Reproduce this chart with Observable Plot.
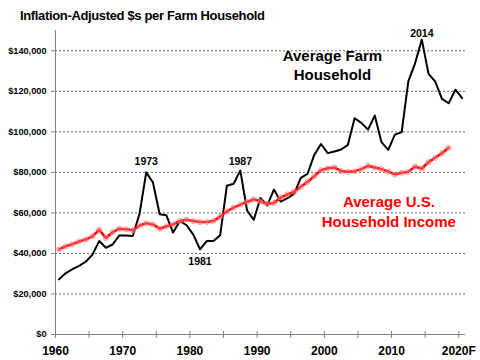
<!DOCTYPE html>
<html>
<head>
<meta charset="utf-8">
<script src="https://cdn.jsdelivr.net/npm/d3@7"></script>
<script src="https://cdn.jsdelivr.net/npm/@observablehq/plot@0.6"></script>
<style>
  body { margin: 0; background: #fff; }
  #wrap { position: relative; width: 480px; height: 360px; font-family: "Liberation Sans", Arial, sans-serif; }
  #title { position: absolute; left: 20px; top: 8px; font-weight: bold; font-size: 13px; letter-spacing: -0.35px; color: #000; white-space: nowrap; }
  #chart svg { display: block; }
</style>
</head>
<body>
<div id="wrap">
  <div id="chart"></div>
  <div id="title">Inflation-Adjusted $s per Farm Household</div>
</div>
<script>
// ---- data ----
const titleText = "Inflation-Adjusted $s per Farm Household";
const farmStartYear = 1960;
const farmIncome = [
  27200, 30200, 32200, 33900, 35900, 39400, 46100, 42800, 44400, 48900,
  48900, 48600, 59500, 80000, 75000, 59300, 58800, 50300, 56000, 53900,
  49300, 42000, 46100, 46100, 49000, 73400, 74400, 80900, 61200, 56600,
  67400, 63700, 71500, 65600, 67300, 69400, 77300, 79300, 88600, 94000,
  89500, 90300, 91300, 93600, 106700, 104400, 101100, 108000, 94900, 91100,
  98600, 99800, 125000, 133800, 145500, 128600, 124800, 116300, 114100, 120800,
  116600
];
const usStartYear = 1960;
const usIncome = [
  42000, 43500, 44500, 45900, 46900, 48400, 51700, 47600, 50500, 52200,
  51900, 51400, 53800, 54900, 54300, 52200, 53400, 54300, 56000, 56600,
  56000, 55500, 55500, 56000, 58200, 60800, 62600, 64100, 65400, 66700,
  65700, 64500, 64900, 67600, 69100, 70400, 72900, 75300, 78100, 81100,
  82000, 82400, 80600, 80300, 80500, 81600, 83200, 82400, 81600, 80400,
  79000, 79800, 80300, 82900, 81800, 85100, 87200, 89500, 92100
];
const seriesNames = ["Average Farm\nHousehold", "Average U.S.\nHousehold Income"];
const yTicks = [0, 20000, 40000, 60000, 80000, 100000, 120000, 140000];
const gridValues = [20000, 40000, 60000, 80000, 100000, 120000, 140000];
const xTickYears = [1960, 1965, 1970, 1975, 1980, 1985, 1990, 1995, 2000, 2005, 2010, 2015, 2020];
const xLabelYears = [1960, 1970, 1980, 1990, 2000, 2010, 2020];
const xLabels = ["1960", "1970", "1980", "1990", "2000", "2010", "2020F"];
const peakYears = [1973, 1987, 2014];
const lowYears = [1981];

// ---- build tables ----
const farm = farmIncome.map((v, i) => ({year: farmStartYear + i, value: v}));
const us = usIncome.map((v, i) => ({year: usStartYear + i, value: v}));
const farmByYear = new Map(farm.map(d => [d.year, d]));
const labelMap = new Map(xLabelYears.map((y, i) => [y, xLabels[i]]));
const midYear = d => d.year + 0.5; // points plotted mid-year
const fmt = d3.format(",");

const peakLabel = (yr, dy) => Plot.text([farmByYear.get(yr)], {
  x: midYear, y: "value", text: d => String(d.year),
  textAnchor: "middle", lineAnchor: "bottom", dy, fontSize: 10.5, fontWeight: "bold", fill: "#000"
});

const chart = Plot.plot({
  width: 480,
  height: 360,
  marginLeft: 55,
  marginRight: 15,
  marginTop: 30,
  marginBottom: 26,
  style: {fontFamily: "'Liberation Sans', Arial, sans-serif", background: "#fff", overflow: "visible"},
  x: {domain: [1960, 2021]},
  y: {domain: [0, 150000]},
  marks: [
    Plot.ruleY(gridValues, {stroke: "#666", strokeDasharray: "2,2", strokeWidth: 1}),
    Plot.ruleX([1960], {stroke: "#808080", strokeWidth: 1}),
    Plot.ruleY([0], {stroke: "#808080", strokeWidth: 1}),
    Plot.ruleX(xTickYears, {y1: 0, y2: 0, insetTop: -3, insetBottom: -4, stroke: "#808080", strokeWidth: 1}),
    Plot.axisY({ticks: yTicks, tickSize: 4, tickPadding: 5, tickFormat: d => "$" + fmt(d),
      fontSize: 9.2, fontWeight: "bold", stroke: "#808080", fill: "#000", label: null}),
    Plot.axisX({ticks: xLabelYears, tickSize: 0, tickPadding: 12, tickFormat: d => labelMap.get(d),
      fontSize: 12, fontWeight: "bold", fill: "#000", label: null, style: {letterSpacing: "-0.3px"}}),
    Plot.lineY(farm, {x: midYear, y: "value", stroke: "#000", strokeWidth: 2}),
    Plot.lineY(us, {x: midYear, y: "value", stroke: "#ff0000", strokeWidth: 2.6}),
    Plot.dot(us, {x: midYear, y: "value", r: 2.6, stroke: "#ff7070", strokeOpacity: 0.6, fill: "#ffb0b0", fillOpacity: 0.35, strokeWidth: 1}),
    peakLabel(1973, -7.6),
    peakLabel(1987, -5.3),
    peakLabel(2014, -2.7),
    Plot.text(lowYears.map(y => farmByYear.get(y)), {
      x: midYear, y: "value", text: d => String(d.year),
      textAnchor: "middle", lineAnchor: "top", dy: 8, fontSize: 10.5, fontWeight: "bold", fill: "#000"
    }),
    Plot.text([seriesNames[0]], {x: 2001.2, y: 141800, text: d => d, textAnchor: "middle", lineAnchor: "top",
      lineHeight: 1.3, fontSize: 15, fontWeight: "bold", fill: "#000"}),
    Plot.text([seriesNames[1]], {x: 2009.6, y: 69800, text: d => d, textAnchor: "middle", lineAnchor: "top",
      lineHeight: 1.33, fontSize: 15, fontWeight: "bold", fill: "#ff0000"})
  ]
});
document.getElementById("chart").appendChild(chart);
</script>
</body>
</html>
